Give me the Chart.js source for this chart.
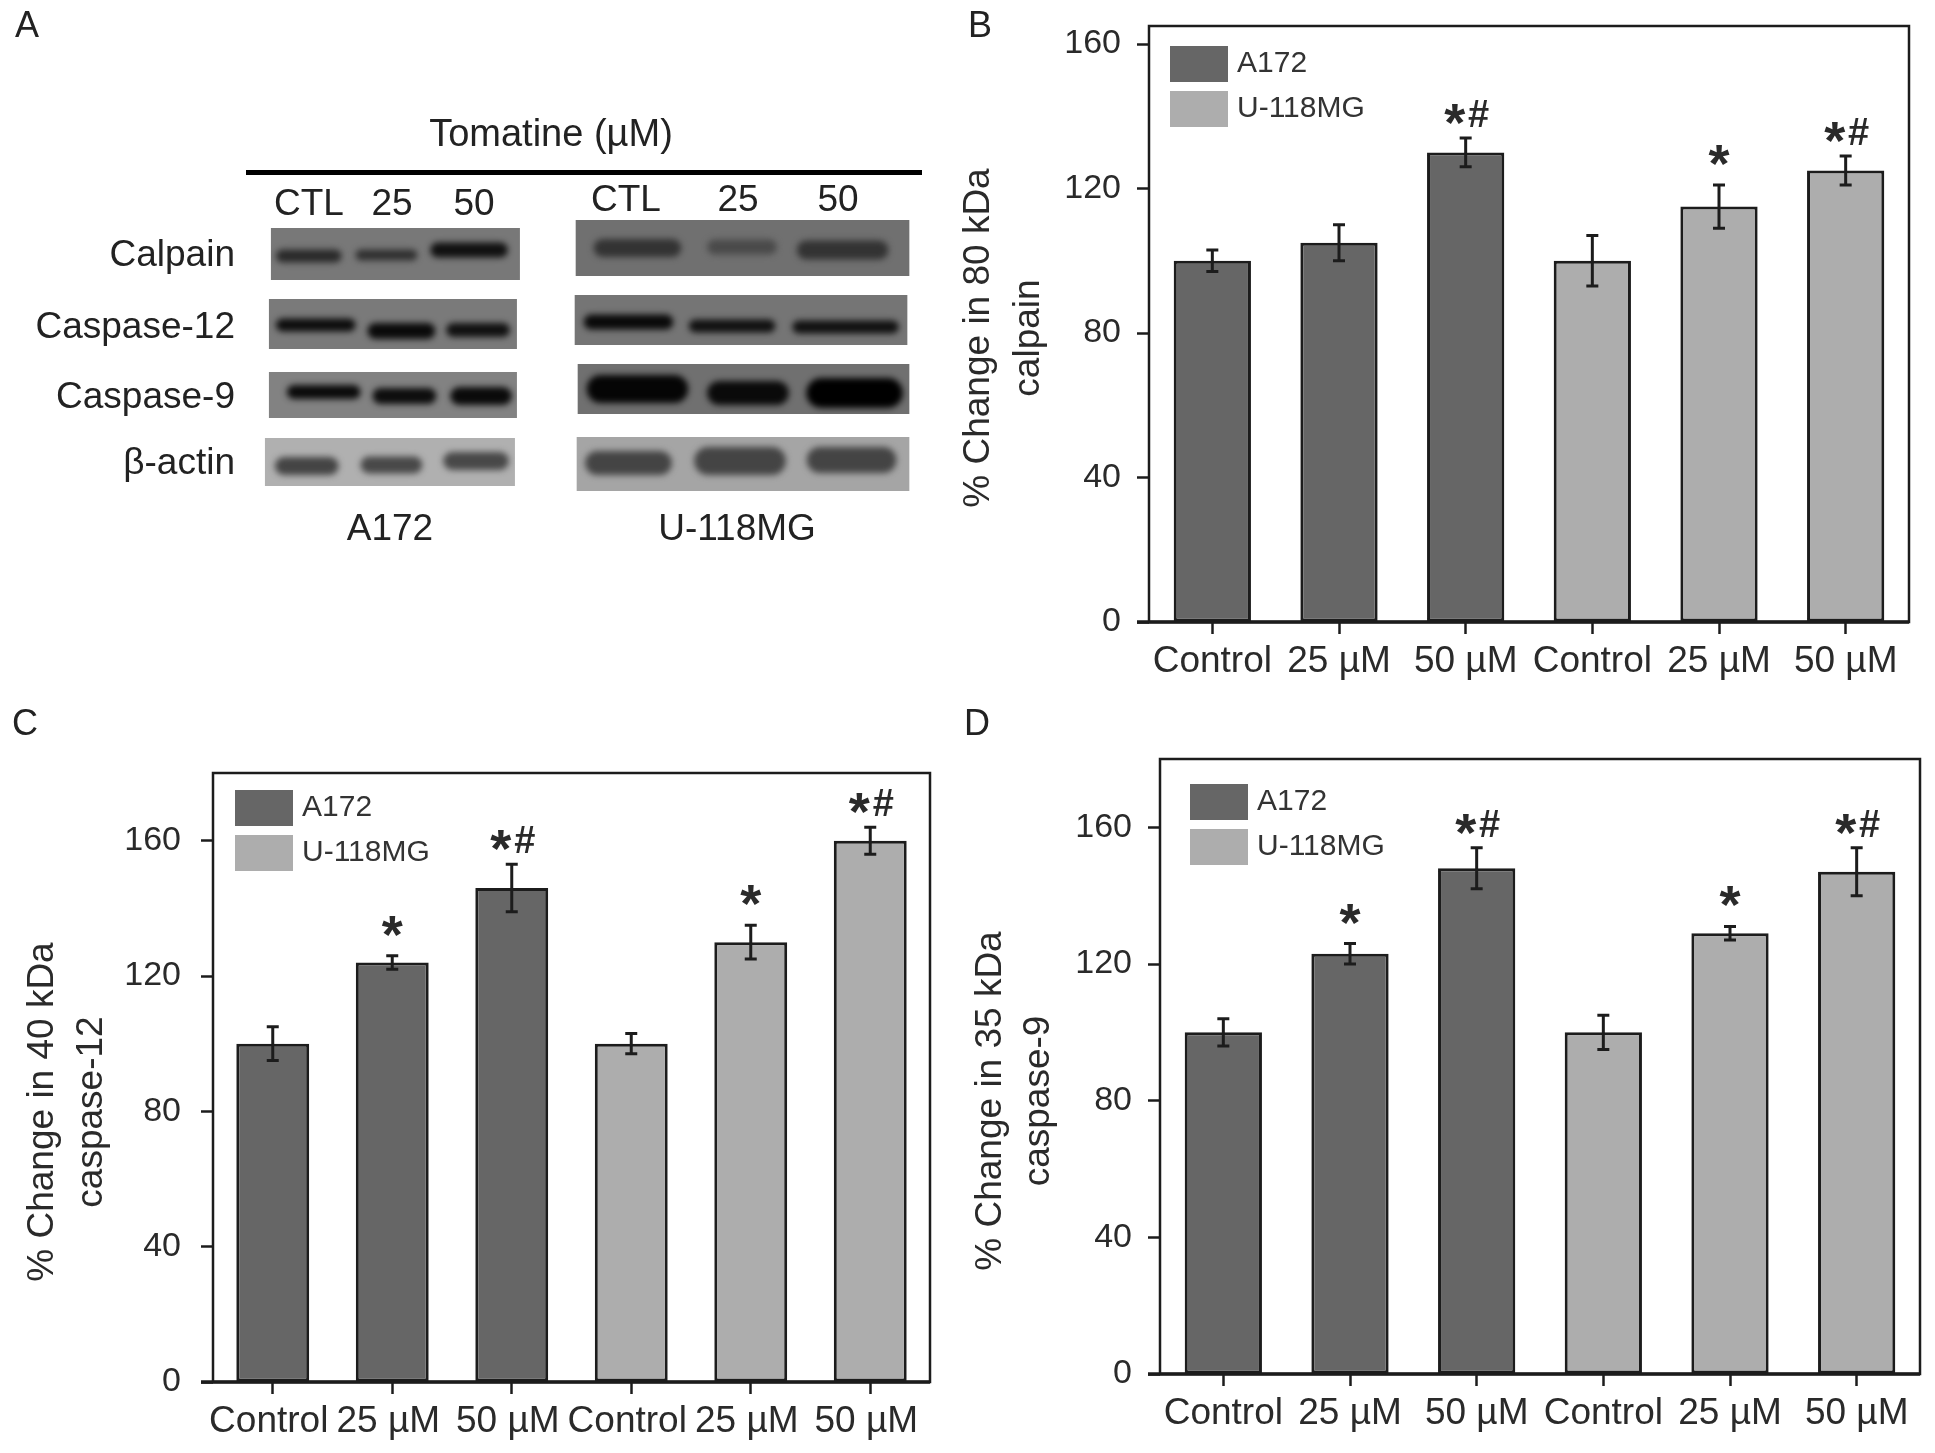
<!DOCTYPE html>
<html>
<head>
<meta charset="utf-8">
<title>Tomatine western blots</title>
<script src="https://cdn.jsdelivr.net/npm/chart.js@4"></script>
<style>
  html, body { margin: 0; padding: 0; background: #fff; }
  body { position: relative; width: 1935px; height: 1453px; overflow: hidden; font-family: "Liberation Sans", Arial, sans-serif; color: #222; }
  canvas { position: absolute; }
  .txt { position: absolute; white-space: nowrap; line-height: 1; transform: translate(-50%, -50%); font-size: 37px; }
  .right { transform: translate(-100%, -50%); }
  .letter { font-size: 36px; }
</style>
</head>
<body>
<canvas id="blots" width="960" height="600" style="left:0;top:0"></canvas>
<canvas id="chart-b" width="975" height="700" style="left:960px;top:0"></canvas>
<canvas id="chart-c" width="960" height="753" style="left:0;top:700px"></canvas>
<canvas id="chart-d" width="975" height="753" style="left:960px;top:700px"></canvas>
<div id="labels"></div>

<script>
// Dados
const categories = ['Control', '25 µM', '50 µM', 'Control', '25 µM', '50 µM'];
const seriesNames = ['A172', 'U-118MG'];
const yTickValues = [0, 40, 80, 120, 160];

const calpainValues = [100, 105, 130, 100, 115, 125];
const calpainErrors = [3, 5, 4, 7, 6, 4];
const calpainMarks  = ['', '', '*#', '', '*', '*#'];

const casp12Values = [100, 124, 146, 100, 130, 160];
const casp12Errors = [5, 2, 7, 3, 5, 4];
const casp12Marks  = ['', '*', '*#', '', '*', '*#'];

const casp9Values = [100, 123, 148, 100, 129, 147];
const casp9Errors = [4, 3, 6, 5, 2, 7];
const casp9Marks  = ['', '*', '*#', '', '*', '*#'];

const FONT = '"Liberation Sans", Arial, sans-serif';
const INK = '#1c1c1c';
const DARK = '#666666';
const LIGHT = '#adadad';

// Desenha moldura, barras de erro, marcas, legenda e título do eixo y
const panelPlugin = {
  id: 'panel',
  afterDatasetsDraw(chart, args, opts) {
    const { ctx, chartArea: area, scales: { x, y } } = chart;
    ctx.save();
    ctx.strokeStyle = INK;
    ctx.fillStyle = '#2a2a2a';

    // moldura
    ctx.lineWidth = 2.5;
    ctx.strokeRect(area.left, area.top, area.right - area.left, area.bottom - area.top);
    ctx.lineWidth = 3.5;
    ctx.beginPath();
    ctx.moveTo(area.left - 12, area.bottom);
    ctx.lineTo(area.right, area.bottom);
    ctx.stroke();

    // erro + significância
    opts.errors.forEach((err, i) => {
      const px = x.getPixelForValue(i);
      const top = y.getPixelForValue(opts.values[i] + err);
      const bottom = y.getPixelForValue(opts.values[i] - err);
      ctx.lineWidth = 3;
      ctx.beginPath();
      ctx.moveTo(px, top);
      ctx.lineTo(px, bottom);
      ctx.moveTo(px - 6, top);
      ctx.lineTo(px + 6, top);
      ctx.moveTo(px - 6, bottom);
      ctx.lineTo(px + 6, bottom);
      ctx.stroke();

      const mark = opts.marks[i];
      if (!mark) return;
      ctx.textAlign = 'center';
      ctx.textBaseline = 'alphabetic';
      const base = top - 14;
      ctx.font = 'bold 54px ' + FONT;
      if (mark.length > 1) {
        ctx.fillText('*', px - 11, base + 17);
        ctx.font = 'bold 38px ' + FONT;
        ctx.fillText('#', px + 13, base + 3);
      } else {
        ctx.fillText('*', px, base + 11);
      }
    });

    // legenda
    chart.data.datasets.forEach((ds, i) => {
      const top = area.top + opts.legend.y + i * 45;
      ctx.fillStyle = ds.backgroundColor;
      ctx.fillRect(area.left + opts.legend.x, top, 58, 36);
      ctx.fillStyle = '#333';
      ctx.font = '30px ' + FONT;
      ctx.textAlign = 'left';
      ctx.textBaseline = 'middle';
      ctx.fillText(ds.label, area.left + opts.legend.x + 67, top + 18);
    });

    // título do eixo y, duas linhas
    ctx.fillStyle = '#2a2a2a';
    ctx.font = '37px ' + FONT;
    ctx.textAlign = 'center';
    ctx.textBaseline = 'middle';
    opts.title.forEach((line, i) => {
      ctx.save();
      ctx.translate(opts.titleX[i], opts.titleY);
      ctx.rotate(-Math.PI / 2);
      ctx.fillText(line, 0, 0);
      ctx.restore();
    });
    ctx.restore();
  }
};

function drawPanel(id, values, errors, marks, cfg) {
  const canvas = document.getElementById(id);
  new Chart(canvas.getContext('2d'), {
    type: 'bar',
    data: {
      labels: categories,
      datasets: [
        { label: seriesNames[0], data: values.map((v, i) => i < 3 ? v : null), backgroundColor: DARK },
        { label: seriesNames[1], data: values.map((v, i) => i >= 3 ? v : null), backgroundColor: LIGHT }
      ].map(ds => ({
        ...ds, grouped: false, borderColor: INK, borderWidth: 3, borderSkipped: false,
        barPercentage: 0.61, categoryPercentage: 1
      }))
    },
    options: {
      responsive: false,
      animation: false,
      devicePixelRatio: 1,
      layout: {
        padding: { top: cfg.top, right: canvas.width - cfg.right, left: 0, bottom: 0 }
      },
      plugins: {
        legend: { display: false },
        tooltip: { enabled: false },
        panel: { values, errors, marks, legend: cfg.legend, title: cfg.title, titleX: cfg.titleX, titleY: cfg.titleY }
      },
      scales: {
        x: {
          border: { display: false },
          grid: { drawOnChartArea: false, tickLength: 12, tickWidth: 2.5, tickColor: INK, offset: false },
          ticks: {
            color: '#2a2a2a', font: { family: FONT, size: 37 }, padding: 6, autoSkip: false, maxRotation: 0,
            labelOffset: cfg.labelOffset || 0
          },
          afterFit: s => { s.height = canvas.height - cfg.bottom; s.paddingLeft = 0; s.paddingRight = 0; }
        },
        y: {
          min: 0,
          max: cfg.max,
          border: { display: false },
          grid: { drawOnChartArea: false, tickLength: 12, tickWidth: 2.5, tickColor: INK },
          ticks: { color: '#2a2a2a', font: { family: FONT, size: 34 }, padding: cfg.tickPad || 16 },
          afterBuildTicks: s => { s.ticks = yTickValues.map(value => ({ value })); },
          afterFit: s => { s.width = cfg.left; s.paddingTop = 0; s.paddingBottom = 0; }
        }
      }
    },
    plugins: [panelPlugin]
  });
}

drawPanel('chart-b', calpainValues, calpainErrors, calpainMarks, {
  left: 189, right: 949, top: 26, bottom: 622, max: 165,
  legend: { x: 21, y: 20 }, title: ['% Change in 80 kDa', 'calpain'], titleX: [19, 69], titleY: 338
});
drawPanel('chart-c', casp12Values, casp12Errors, casp12Marks, {
  left: 213, right: 930, top: 73, bottom: 682, max: 180, labelOffset: -4, tickPad: 20,
  legend: { x: 22, y: 17 }, title: ['% Change in 40 kDa', 'caspase-12'], titleX: [43, 92], titleY: 412
});
drawPanel('chart-d', casp9Values, casp9Errors, casp9Marks, {
  left: 200, right: 960, top: 59, bottom: 674, max: 180,
  legend: { x: 30, y: 25 }, title: ['% Change in 35 kDa', 'caspase-9'], titleX: [31, 79], titleY: 401
});

// Painel A: foto do blot, sem dados numéricos
const blotPatches = [
  { rect: [272, 228, 250, 52], bg: '#787878', bands: [[310, 256, 66, 13, '#2a2a2a'], [388, 255, 62, 11, '#303030'], [471, 250, 78, 15, '#111']] },
  { rect: [578, 220, 335, 56], bg: '#707070', bands: [[640, 248, 88, 18, '#333'], [745, 247, 70, 15, '#4a4a4a'], [846, 250, 92, 19, '#333']] },
  { rect: [270, 299, 249, 50], bg: '#7a7a7a', bands: [[317, 325, 80, 13, '#0d0d0d'], [403, 331, 68, 16, '#0a0a0a'], [480, 330, 64, 14, '#111']] },
  { rect: [577, 295, 334, 50], bg: '#757575', bands: [[631, 322, 90, 15, '#0a0a0a'], [735, 326, 87, 13, '#111'], [849, 327, 107, 13, '#111']] },
  { rect: [270, 372, 249, 46], bg: '#828282', bands: [[325, 392, 74, 14, '#0a0a0a'], [406, 396, 64, 16, '#0d0d0d'], [483, 396, 62, 18, '#0a0a0a']] },
  { rect: [580, 364, 333, 50], bg: '#707070', bands: [[640, 389, 102, 28, '#050505'], [751, 393, 82, 24, '#0a0a0a'], [858, 393, 97, 30, '#000']] },
  { rect: [266, 438, 251, 48], bg: '#b0b0b0', bands: [[308, 466, 64, 18, '#444'], [393, 465, 62, 17, '#484848'], [478, 461, 66, 18, '#484848']] },
  { rect: [579, 437, 334, 54], bg: '#a5a5a5', bands: [[631, 463, 87, 24, '#444'], [743, 461, 92, 28, '#444'], [855, 460, 90, 26, '#444']] }
];

function drawBlots() {
  const ctx = document.getElementById('blots').getContext('2d');
  ctx.fillStyle = '#000';
  ctx.fillRect(246, 170, 676, 5);
  ctx.scale(0.996, 1); // ajuste fino da largura dos recortes
  blotPatches.forEach(p => {
    const [x, y, w, h] = p.rect;
    ctx.save();
    ctx.fillStyle = p.bg;
    ctx.fillRect(x, y, w, h);
    ctx.beginPath();
    ctx.rect(x, y, w, h);
    ctx.clip();
    ctx.filter = 'blur(3px)';
    p.bands.forEach(([cx, cy, bw, bh, color]) => {
      ctx.fillStyle = color;
      ctx.beginPath();
      ctx.roundRect(cx - bw / 2, cy - bh / 2, bw, bh, bh / 2);
      ctx.fill();
    });
    ctx.restore();
  });
}
drawBlots();

// Textos soltos
const looseLabels = [
  ['A', 27, 25, 'letter'], ['B', 980, 25, 'letter'], ['C', 25, 723, 'letter'], ['D', 977, 723, 'letter'],
  ['CTL', 309, 202], ['25', 392, 202], ['50', 474, 202],
  ['CTL', 626, 198], ['25', 738, 198], ['50', 838, 198],
  ['Calpain', 235, 253, 'right'], ['Caspase-12', 235, 325, 'right'],
  ['Caspase-9', 235, 395, 'right'], ['β-actin', 235, 461, 'right'],
  ['A172', 390, 527], ['U-118MG', 737, 527]
];
const labelBox = document.getElementById('labels');
looseLabels.forEach(([text, x, y, cls]) => {
  const el = document.createElement('div');
  el.className = 'txt' + (cls ? ' ' + cls : '');
  el.textContent = text;
  el.style.left = x + 'px';
  el.style.top = y + 'px';
  labelBox.appendChild(el);
});
const head = document.createElement('div');
head.className = 'txt';
head.textContent = 'Tomatine (µM)';
head.style.cssText = 'left:551px;top:133px;font-size:38px';
labelBox.appendChild(head);
</script>
</body>
</html>
